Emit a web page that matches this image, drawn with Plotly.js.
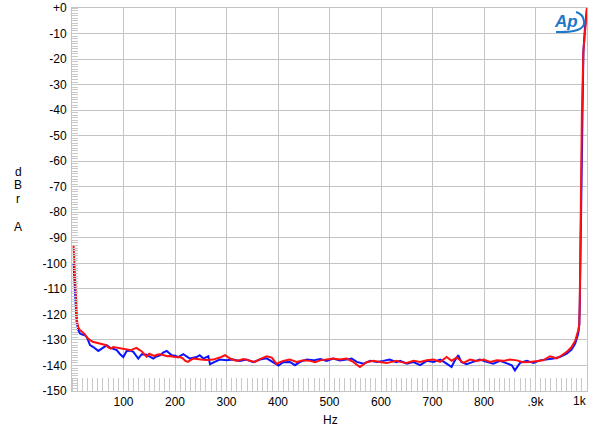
<!DOCTYPE html>
<html><head><meta charset="utf-8">
<script src="https://cdn.plot.ly/plotly-3.0.1.min.js"></script>
<style>html,body{margin:0;padding:0;background:#fff}#c{width:600px;height:434px}</style>
</head><body><div id="c"></div>
<script>
// Red channel
const redHz = [3,4,5,6,7,8,9,10,12,14,16,18,20,22,25,28,31,35,40,45,50,55,60,65,70,75,80,85,90,95,100,105,110,115,120,125,130,135,140,145,150,155,160,165,170,175,180,185,190,195,200,205,210,215,220,225,230,235,240,245,250,261,274,287,297,307,320,333,346,355,365,378,388,397,410,423,436,449,462,472,482,494.5,507,520,533,546,559,572,585,598,611,621,630,637,650,663,676,689,702,715,727.5,737,747,760,773,786,799,812,825,837.5,850.5,863.5,876,889,902,915,928,941,951,960.6,970,977,983,985,986,987,989,990,993,996,1000];
const redDb = [-93,-97,-100,-104,-110,-116,-121,-123,-125,-126,-126.3,-126.5,-126.8,-127,-127.8,-128.8,-129.5,-130.1,-130.7,-131,-131.2,-131.3,-131.6,-132,-132.8,-133.4,-132.8,-133,-133,-133.2,-133.5,-133.6,-133.9,-134,-133.5,-133.1,-133.8,-134.4,-135.5,-136.6,-135.4,-136,-136.3,-135.8,-135.6,-135.8,-136.2,-136.4,-136.3,-136.6,-136.7,-136.8,-136.7,-137.2,-138.2,-138.6,-137.8,-137.3,-137.4,-137.6,-137.7,-137.9,-137.7,-136.9,-136.0,-137.3,-138.2,-137.5,-138.0,-138.6,-137.5,-136.4,-136.9,-139.3,-138.2,-137.7,-138.6,-138.0,-138.2,-138.7,-138.0,-137.7,-137.3,-137.7,-137.3,-138.6,-140.6,-138.7,-138.2,-138.6,-139.0,-138.6,-138.2,-138.6,-139.0,-138.2,-138.6,-138.0,-137.7,-138.6,-136.7,-138.2,-136.9,-139.0,-137.7,-138.2,-137.7,-138.6,-138.0,-138.2,-137.7,-138.0,-138.7,-138.6,-138.2,-138.0,-136.4,-137.2,-136.0,-134.7,-132.8,-130.4,-126.2,-124,-114,-95,-60,-42,-17,-8,0];
// Blue channel
const blueHz = [2.5,3.5,4,5.8,7.8,9,12.2,15.5,18.8,22,25,28.5,32,35,41.4,46,51,57.7,62,67.4,73.8,80,86.8,93,99.6,106.2,113,119,124,128.7,135.3,145,151,157.9,164,170.9,177,183.9,193.6,200,206.4,216,229,242,248,255,264.7,268,277,287,300,313,326,339,352,365,378,391,401,410,423,433,443,456,469,482,494.5,507,520,533,543,553,566,579,592,604,617,630,637,650,663,676,689,702,715,727.5,737,743,750,756,766,779,792,805,818,831,844,854,860,870,883,896,909,922,935,947,960.6,970,977,983,985,986,987,988,989,990,993,996,1000];
const blueDb = [-100,-101,-104,-110.6,-119.6,-123,-126.2,-127.5,-127.8,-127.9,-128.2,-128.8,-130.5,-132,-132.8,-133.5,-134.3,-133.4,-132.8,-132.1,-133,-133.5,-134,-135.5,-136.7,-134.3,-134.2,-134.7,-136,-137.3,-135.6,-135.8,-136.5,-137.3,-136.5,-136,-135,-134.3,-136,-136.2,-136.7,-135.6,-137.3,-136.7,-136.0,-137.3,-136.4,-139.5,-138.6,-137.7,-138.0,-137.7,-138.2,-137.7,-138.7,-137.7,-137.2,-138.6,-140.0,-138.7,-138.6,-139.9,-138.6,-137.7,-138.0,-137.5,-138.2,-137.3,-138.0,-137.7,-137.3,-138.6,-139.3,-138.2,-138.6,-138.2,-137.7,-138.7,-138.2,-139.3,-138.7,-139.9,-138.2,-138.6,-137.7,-139.3,-140.6,-138.2,-136.0,-138.6,-139.5,-138.6,-137.7,-138.6,-139.3,-138.2,-139.0,-139.9,-141.9,-139.0,-138.2,-139.0,-138.0,-137.7,-137.3,-136.7,-135.4,-133.8,-131.4,-127.5,-124,-116,-100,-80,-60,-42,-17,-8,0];
const yTickVals = [0,-10,-20,-30,-40,-50,-60,-70,-80,-90,-100,-110,-120,-130,-140,-150];
const yTickText = ['+0','-10','-20','-30','-40','-50','-60','-70','-80','-90','-100','-110','-120','-130','-140','-150'];
const xTickVals = [100,200,300,400,500,600,700,800,900];
const xTickText = ['100','200','300','400','500','600','700','800','.9k'];

const FONT = 'Liberation Sans, Arial, sans-serif';
const L = 72, R = 587, T = 8, B = 391;
const px = x => (x - L) / (R - L);
const py = y => (B - y) / (B - T);

const traces = [
  {x: blueHz, y: blueDb, type: 'scatter', mode: 'lines', line: {color: '#0a14ff', width: 2}, hoverinfo: 'skip'},
  {x: redHz, y: redDb, type: 'scatter', mode: 'lines', line: {color: '#ff1010', width: 2}, hoverinfo: 'skip'}
];

const ann = (t, x, y, extra) => Object.assign({text: t, xref: 'paper', yref: 'paper', x: px(x), y: py(y), showarrow: false, xanchor: 'center', yanchor: 'middle', font: {family: FONT, size: 12, color: '#000'}}, extra || {});

const layout = {
  width: 600, height: 434,
  margin: {l: L, r: 600 - R, t: T, b: 434 - B, pad: 0},
  paper_bgcolor: '#fff', plot_bgcolor: '#fff',
  showlegend: false,
  font: {family: FONT, size: 12, color: '#000'},
  xaxis: {
    range: [0, 1000], tickvals: xTickVals, ticktext: xTickText, ticks: '',
    showgrid: true, gridcolor: '#c4c4c4', gridwidth: 1, zeroline: false,
    showline: true, mirror: true, linecolor: '#c4c4c4', linewidth: 1,
    tickfont: {family: FONT, size: 12, color: '#000'},
    minor: {dtick: 10, tick0: 0, ticks: 'inside', ticklen: 13, tickcolor: '#c8c8c8', tickwidth: 1, showgrid: false},
    fixedrange: true
  },
  yaxis: {
    range: [-150, 0], tickvals: yTickVals, ticktext: yTickText, ticks: '',
    showgrid: true, gridcolor: '#c4c4c4', gridwidth: 1, zeroline: false,
    showline: true, mirror: true, linecolor: '#c4c4c4', linewidth: 1,
    tickfont: {family: FONT, size: 12, color: '#000'},
    minor: {dtick: 1, tick0: 0, ticks: 'inside', ticklen: 6, tickcolor: '#c8c8c8', tickwidth: 1, showgrid: false},
    ticklabelstandoff: 2,
    fixedrange: true
  },
  annotations: [
    ann('d', 18, 172), ann('B', 18, 185), ann('r', 18, 199), ann('A', 18, 227),
    ann('Hz', 330, 420),
    ann('1k', 580, 401),
    ann('<b><i>Ap</i></b>', 566, 22, {font: {family: FONT, size: 17, color: '#1e78c8'}})
  ],
  shapes: [
    {type: 'path', xref: 'paper', yref: 'paper',
     path: 'M ' + px(556) + ',' + py(32) + ' Q ' + px(586) + ',' + py(33) + ' ' + px(584) + ',' + py(21) + ' Q ' + px(583) + ',' + py(14) + ' ' + px(576) + ',' + py(12),
     line: {color: '#1e78c8', width: 2}}
  ]
};

Plotly.newPlot('c', traces, layout, {staticPlot: true, displayModeBar: false});
</script>
</body></html>
